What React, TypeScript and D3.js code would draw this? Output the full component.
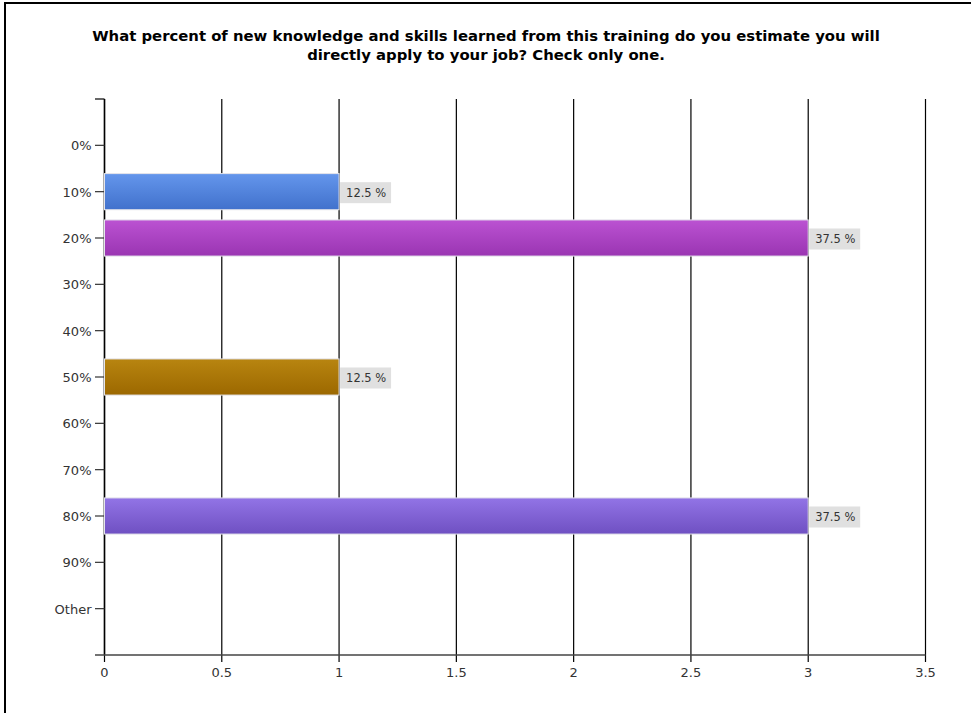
import React from "react";
import * as d3 from "d3";

const categories = ["0%", "10%", "20%", "30%", "40%", "50%", "60%", "70%", "80%", "90%", "Other"];
const counts = [0, 1, 3, 0, 0, 1, 0, 0, 3, 0, 0];
const percentLabels = ["", "12.5 %", "37.5 %", "", "", "12.5 %", "", "", "37.5 %", "", ""];
const xTicks = [0, 0.5, 1, 1.5, 2, 2.5, 3, 3.5];
const xTickLabels = ["0", "0.5", "1", "1.5", "2", "2.5", "3", "3.5"];
const barColors: Record<string, [string, string]> = {
  "10%": ["#6496ec", "#4171cc"],
  "20%": ["#bb52d2", "#9a35b2"],
  "50%": ["#b88510", "#9c6800"],
  "80%": ["#9274e6", "#6f50c2"],
};
const titleLines = [
  "What percent of new knowledge and skills learned from this training do you estimate you will",
  "directly apply to your job? Check only one.",
];

export default function App() {
  const W = 971, H = 713;
  const left = 104.5, right = 925.5, top = 99, bottom = 655;
  const x = d3.scaleLinear().domain([0, 3.5]).range([left, right]);
  const y = d3.scalePoint<string>().domain(categories).range([top, bottom]).padding(1);
  const step = y.step();
  const barH = step * 0.78;
  const font = "'DejaVu Sans', Verdana, sans-serif";

  return (
    <svg width={W} height={H} style={{ position: "absolute", left: 0, top: 0, background: "#fff" }}>
      <defs>
        {Object.entries(barColors).map(([k, [c1, c2]]) => (
          <linearGradient key={k} id={"g" + k.replace("%", "")} x1="0" y1="0" x2="0" y2="1">
            <stop offset="0" stopColor={c1} />
            <stop offset="1" stopColor={c2} />
          </linearGradient>
        ))}
      </defs>
      <rect x={0} y={0} width={W} height={H} fill="#fff" />
      <line x1={5} y1={2} x2={5} y2={H} stroke="#000" strokeWidth={2} />
      <line x1={4} y1={3} x2={W} y2={3} stroke="#000" strokeWidth={2} />
      {titleLines.map((t, i) => (
        <text key={i} x={486} y={41 + i * 19} textAnchor="middle" fontFamily={font} fontWeight="bold" fontSize={14.85} fill="#000">
          {t}
        </text>
      ))}
      {/* vertical gridlines */}
      {xTicks.map((t, i) => (
        <g key={"x" + i}>
          <line x1={x(t)} x2={x(t)} y1={top} y2={bottom + 7} stroke="#000" strokeWidth={1.2} />
          <text x={x(t)} y={bottom + 22} textAnchor="middle" fontFamily={font} fontSize={13} fill="#333">
            {xTickLabels[i]}
          </text>
        </g>
      ))}
      {/* y axis */}
      <line x1={left} x2={left} y1={top} y2={bottom} stroke="#000" strokeWidth={1.5} />
      <line x1={95} x2={left} y1={top} y2={top} stroke="#000" strokeWidth={1.2} />
      <line x1={95} x2={right} y1={bottom} y2={bottom} stroke="#444" strokeWidth={1.5} />
      {categories.map((c) => (
        <g key={c}>
          <line x1={95} x2={left} y1={y(c)} y2={y(c)} stroke="#333" strokeWidth={1.2} />
          <text x={91.5} y={(y(c) as number) + 5} textAnchor="end" fontFamily={font} fontSize={13} fill="#333">
            {c}
          </text>
        </g>
      ))}
      {/* bars */}
      {categories.map((c, i) =>
        counts[i] > 0 ? (
          <g key={"b" + c}>
            <rect
              x={x(0)}
              y={(y(c) as number) - barH / 2}
              width={x(counts[i]) - x(0)}
              height={barH}
              fill={`url(#g${c.replace("%", "")})`}
              stroke="#e4e4ea"
              strokeWidth={1}
            />
            <rect x={x(counts[i]) + 1} y={(y(c) as number) - 9.5} width={51} height={21} fill="#e0e0e0" />
            <text x={x(counts[i]) + 7} y={(y(c) as number) + 5} fontFamily={font} fontSize={11.5} fill="#333">
              {percentLabels[i]}
            </text>
          </g>
        ) : null
      )}
    </svg>
  );
}
